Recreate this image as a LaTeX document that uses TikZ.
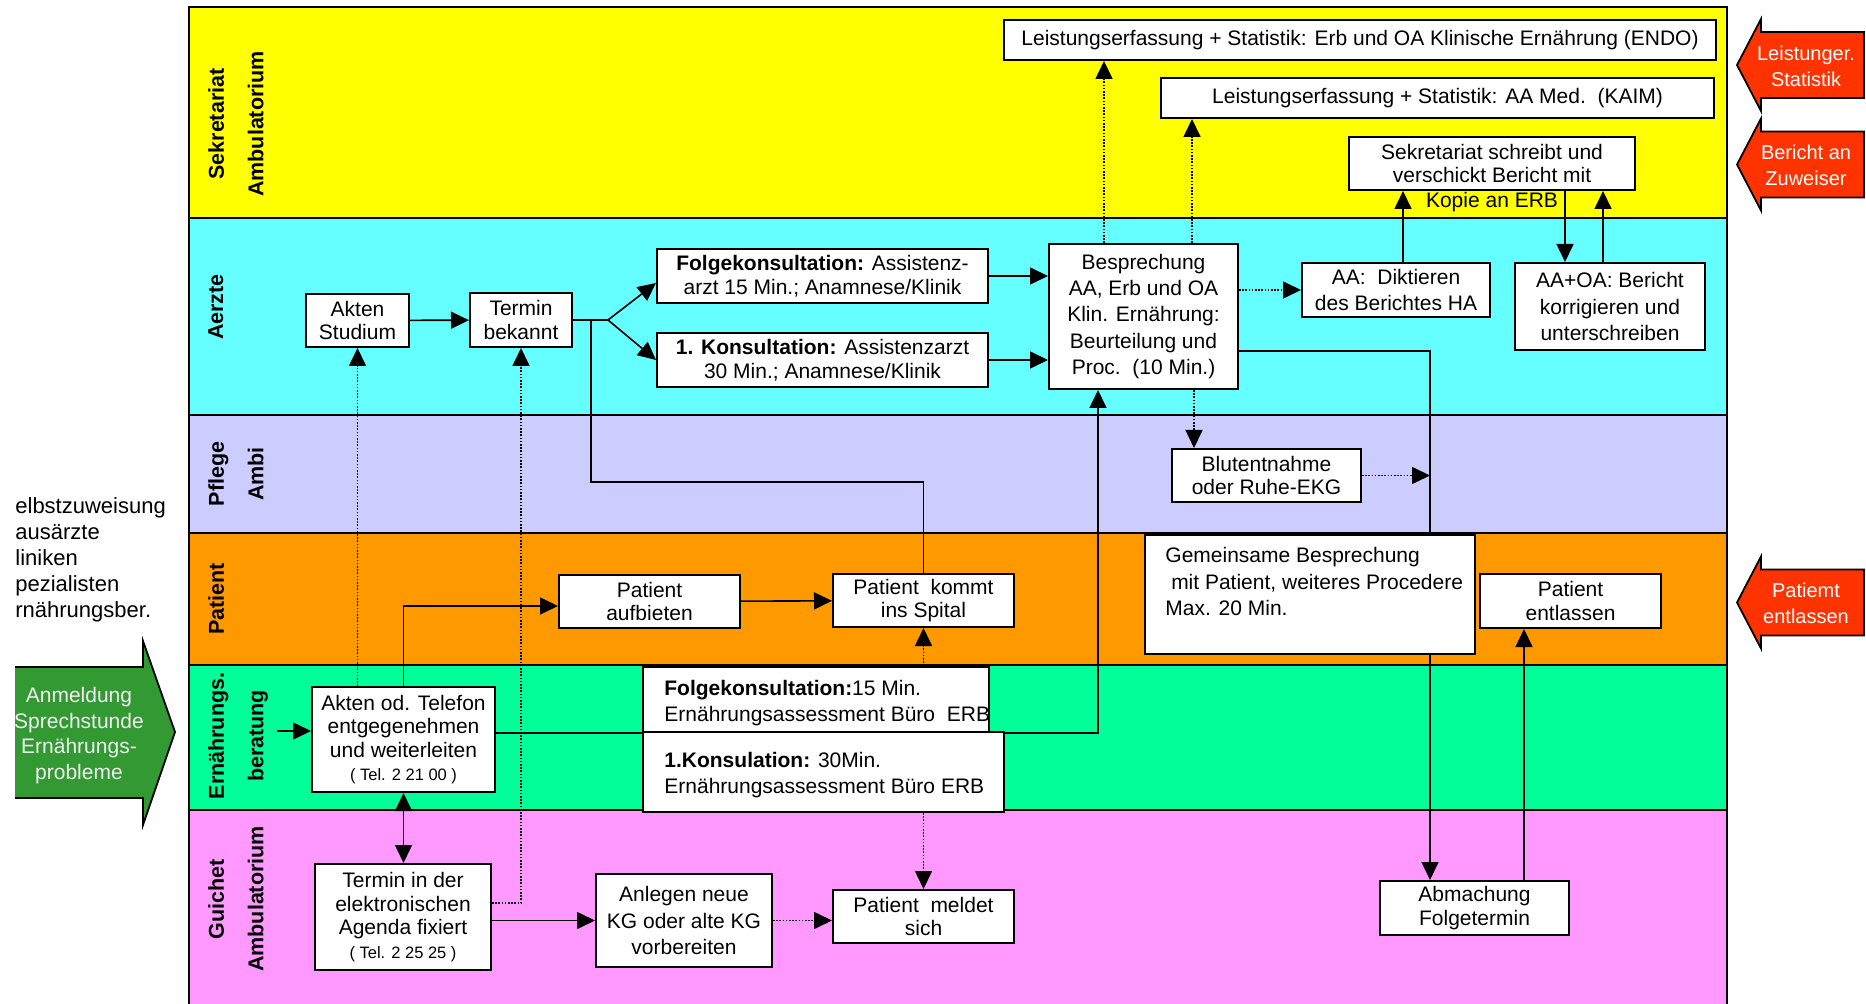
\documentclass[tikz,border=0pt]{standalone}
\usepackage{fontspec}
\setmainfont{Liberation Sans}
\usetikzlibrary{positioning,arrows.meta}
\definecolor{lanegelb}{HTML}{FFFF00}
\definecolor{lanecyan}{HTML}{66FFFF}
\definecolor{lanelila}{HTML}{CCCCFF}
\definecolor{laneorange}{HTML}{FF9900}
\definecolor{lanegruen}{HTML}{00FF99}
\definecolor{lanerosa}{HTML}{FF99FF}
\definecolor{signalred}{HTML}{FF3300}
\definecolor{anmeldgruen}{HTML}{339933}
\newcommand{\telfont}{\fontsize{8.25}{10}\selectfont}
\tikzset{
    lane/.style={draw, line width=0.9pt},
    lanelabel/.style={rotate=90, anchor=north, align=center, inner sep=0pt,
        font=\bfseries\fontsize{10.75}{19.75}\selectfont},
    box/.style={draw, fill=white, line width=1pt, inner sep=0pt, align=center,
        font=\fontsize{10.5}{11.75}\selectfont},
    boxsize/.style 2 args={minimum width=#1*0.5pt, minimum height=#2*0.5pt},
    loose/.style={font=\fontsize{10.5}{13.2}\selectfont},
    boxtext/.style={align=left, inner sep=0pt, font=\fontsize{10.5}{13}\selectfont},
    flow/.style={->, line width=0.8pt},
    dotflow/.style={->, line width=0.8pt, dash pattern=on 0.8pt off 0.8pt},
    signal/.style={fill=signalred, draw=black, line width=0.9pt},
    signaltext/.style={align=center, inner sep=0pt, text=white,
        font=\fontsize{10}{13}\selectfont}
}

\begin{document}
\begin{tikzpicture}[x=0.5pt, y=-0.5pt, >={Triangle[length=9pt,width=8.5pt]}]
\useasboundingbox (0,0) rectangle (1866,1004);

% swimlanes
\filldraw[lane, fill=lanegelb] (189,7) rectangle (1727,218);
\filldraw[lane, fill=lanecyan] (189,218) rectangle (1727,415);
\filldraw[lane, fill=lanelila] (189,415) rectangle (1727,533);
\filldraw[lane, fill=laneorange] (189,533) rectangle (1727,665);
\filldraw[lane, fill=lanegruen] (189,665) rectangle (1727,810);
\filldraw[lane, fill=lanerosa] (189,810) rectangle (1727,1012);

\node[lanelabel] (lsekr) at (208,124) {Sekretariat\\Ambulatorium};
\node[lanelabel] (laerzte) at (208,307) {Aerzte};
\node[lanelabel] (lpflege) at (208,474) {Pflege\\Ambi};
\node[lanelabel] (lpatient) at (208,599) {Patient};
\node[lanelabel] (lernaehrung) at (208,736) {Ernährungs.\\beratung};
\node[lanelabel] (lguichet) at (208,899) {Guichet\\Ambulatorium};

% left side
\node[anchor=north west, align=left, inner sep=0pt, font=\fontsize{11}{13}\selectfont]
    (zuweiser) at (15,497) {elbstzuweisung\\ausärzte\\liniken\\pezialisten\\rnährungsber.};
\fill[anmeldgruen] (15,667) -- (143,667) -- (143,641) -- (175,732) -- (143,825)
    -- (143,798) -- (15,798) -- cycle;
\draw[line width=0.9pt] (15,667) -- (143,667) -- (143,641) -- (175,732) -- (143,825)
    -- (143,798) -- (15,798);
\node[signaltext, text=white!94!black, font=\fontsize{10.5}{12.85}\selectfont]
    (anmeldung) at (79,735.5) {Anmeldung\\Sprechstunde\\Ernährungs-\\probleme};

% right side
\foreach \yc/\nm/\txt in {65/leistung/{Leistunger.\\Statistik},
        164.5/bericht/{Bericht an\\Zuweiser}, 602.5/entlassung/{Patiemt\\entlassen}}{
    \filldraw[signal] (1737,\yc) -- ++(24,-46) -- ++(0,13) -- ++(103,0) -- ++(0,66)
        -- ++(-103,0) -- ++(0,13) -- cycle;
    \node[signaltext] (\nm) at (1806,\yc+1) {\txt};
}

% Sekretariat
\node[box, boxsize={712}{40}] (endo) at (1360,40)
    {Leistungserfassung + Statistik: Erb und OA Klinische Ernährung (ENDO)};
\node[box, boxsize={553}{40}] (kaim) at (1437.5,98)
    {Leistungserfassung + Statistik: AA Med.\ \ (KAIM)};
\node[box, boxsize={286}{53}] (sekr) at (1492,163.5)
    {Sekretariat schreibt und\\verschickt Bericht mit};
\node[below=0.5pt of sekr, inner sep=0pt, font=\fontsize{10.5}{11.75}\selectfont]
    (kopie) {Kopie an ERB};

% Aerzte
\node[box, boxsize={103}{53}] (akten) at (357.5,320.5) {Akten\\Studium};
\node[box, boxsize={102}{54}] (terminbek) at (521,320) {Termin\\bekannt};
\node[box, boxsize={331}{54}] (folge) at (822.5,276)
    {\textbf{Folgekonsultation:} Assistenz-\\arzt 15 Min.; Anamnese/Klinik};
\node[box, boxsize={331}{54}] (erste) at (822.5,360)
    {\textbf{1. Konsultation:} Assistenzarzt\\30 Min.; Anamnese/Klinik};
\node[box, loose, boxsize={189}{145}] (bespr) at (1143.5,316.5)
    {Besprechung\\AA, Erb und OA\\Klin. Ernährung:\\Beurteilung und\\Proc.\ \ (10 Min.)};
\node[box, loose, boxsize={188}{54}] (diktat) at (1396,290)
    {AA:\ \ Diktieren\\des Berichtes HA};
\node[box, loose, boxsize={190}{87}] (korr) at (1610,306.5)
    {AA+OA: Bericht\\korrigieren und\\unterschreiben};

% Pflege
\node[box, boxsize={189}{53}] (blut) at (1266.5,475.5) {Blutentnahme\\oder Ruhe-EKG};

% Patient
\node[box, boxsize={181}{53}] (aufbieten) at (649.5,601.5) {Patient\\aufbieten};
\node[box, boxsize={181}{53}] (kommt) at (923.5,600.5) {Patient\ \ kommt\\ins Spital};
\node[box, boxsize={330}{119}] (gemeinsam) at (1310,594.5) {};
\node[boxtext, anchor=north west, font=\fontsize{10.5}{13.25}\selectfont] (gemtext)
    at (1165,547) {Gemeinsame Besprechung\\\ mit Patient, weiteres Procedere\\Max. 20 Min.};
\node[box, boxsize={181}{54}] (entlassen) at (1570.5,601) {Patient\\entlassen};

% Ernaehrungsberatung
\node[box, boxsize={183}{105}] (telefon) at (403.5,739.5)
    {Akten od. Telefon\\entgegenehmen\\und weiterleiten\\{\telfont ( Tel. 2 21 00 )}};

% Guichet
\node[box, boxsize={176}{106}] (agenda) at (403,917)
    {Termin in der\\elektronischen\\Agenda fixiert\\{\telfont ( Tel. 2 25 25 )}};
\node[box, loose, boxsize={176}{93}] (anlegen) at (684,920.5)
    {Anlegen neue\\KG oder alte KG\\vorbereiten};
\node[box, boxsize={181}{53}] (meldet) at (923.5,916.5) {Patient\ \ meldet\\sich};
\node[box, boxsize={189}{54}] (abmachung) at (1474.5,908) {Abmachung\\Folgetermin};

% line behind the ERB boxes
\coordinate (rueck) at (1098,733);
\draw[flow] (telefon.east |- rueck) -- (rueck) -- (rueck |- bespr.south);

\node[box, boxsize={346}{65}] (folgeerb) at (816,699.5) {};
\node[box, boxsize={361}{80}] (ersterb) at (823.5,772) {};
\node[boxtext, anchor=west] (folgetext) at (664,703)
    {\textbf{Folgekonsultation:}15 Min.\\Ernährungsassessment Büro\ \ ERB};
\node[boxtext, anchor=west] (erstetext) at (664,775)
    {\textbf{1.Konsulation:} 30Min.\\Ernährungsassessment Büro ERB};

% connectors
\coordinate (split) at (608,320);
\coordinate (abzweig) at (591,320);
\coordinate (knick) at (1430,351);
\coordinate (eingang) at (277,731);
\coordinate (endoab) at ([xshift=28pt]bespr.north west);
\coordinate (kaimab) at ([xshift=72pt]bespr.north west);
\coordinate (blutab) at ([xshift=73pt]bespr.south west);
\coordinate (sekrauf) at ([xshift=3.5pt]diktat.north);
\coordinate (korrab) at ([xshift=-22.5pt]korr.north);
\coordinate (korrauf) at ([xshift=-3.5pt]korr.north);
\coordinate (entlauf) at ([xshift=24.75pt]abmachung.north);
\coordinate (aufbietenein) at ([yshift=-2.25pt]aufbieten.west);

\draw[flow] (akten) -- (terminbek);
\draw[line width=0.8pt] (terminbek.east) -- (split);
\draw[flow] (split) -- ([yshift=-3.5pt]folge.west);
\draw[flow] (split) -- (erste.west);
\draw[line width=0.8pt] (abzweig) -- ++(0,162) -| (kommt.north);
\draw[flow] (folge.east) -- (folge.east -| bespr.west);
\draw[flow] (erste.east) -- (erste.east -| bespr.west);
\draw[dotflow] (endoab) -- (endoab |- endo.south);
\draw[dotflow] (kaimab) -- (kaimab |- kaim.south);
\draw[dotflow] (blutab) -- (blutab |- blut.north);
\draw[dotflow] (bespr.east |- diktat) -- (diktat.west);
\draw[flow] (sekrauf) -- (sekrauf |- sekr.south);
\draw[flow] (korrab |- sekr.south) -- (korrab);
\draw[flow] (korrauf) -- (korrauf |- sekr.south);
\draw[line width=0.8pt] (bespr.east |- knick) -- (knick) -- (knick |- gemeinsam.north);
\draw[flow] (knick |- gemeinsam.south) -- (knick |- abmachung.north);
\draw[dotflow] (blut.east) -- (blut.east -| knick);
\draw[flow] (entlauf) -- (entlauf |- entlassen.south);

\draw[flow] (eingang) -- (telefon.west |- eingang);
\draw[flow] (telefon.north) |- (aufbietenein);
\draw[flow] (aufbieten) -- (kommt);
\draw[dotflow] (akten.south |- telefon.north) -- (akten.south);
\draw[dotflow] ([yshift=7pt]agenda.east) -| (terminbek.south);
\draw[flow, <->] (telefon.south) -- (telefon.south |- agenda.north);
\draw[flow] (agenda.east |- anlegen) -- (anlegen.west);
\draw[dotflow] (anlegen.east) -- (anlegen.east -| meldet.west);
\draw[dotflow] (kommt.south |- folgeerb.north) -- (kommt.south);
\draw[dotflow] (meldet.north |- ersterb.south) -- (meldet.north);
\end{tikzpicture}
\end{document}
